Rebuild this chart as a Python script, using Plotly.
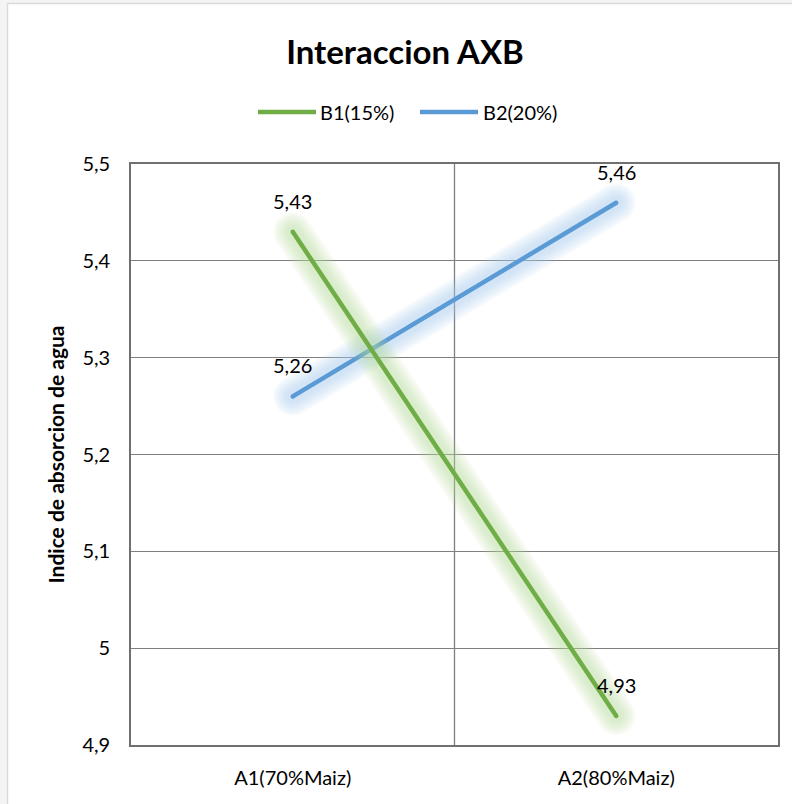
import plotly.graph_objects as go

# Data
categories = ["A1(70%Maiz)", "A2(80%Maiz)"]
series_names = ["B1(15%)", "B2(20%)"]
b1_values = [5.43, 4.93]
b2_values = [5.26, 5.46]
y_ticks = [4.9, 5.0, 5.1, 5.2, 5.3, 5.4, 5.5]

FONT = "Lato"
W, H = 792, 804
L, R, T, B = 131, 14, 164, 59
PW, PH = W - L - R, H - T - B


def px_x(px):
    return (px - L) / PW


def px_y(py):
    return (H - B - py) / PH


xpos = list(range(len(categories)))

styles = {
    "B1(15%)": dict(color="#70AD47", glow="#B5DC98"),
    "B2(20%)": dict(color="#5B9BD5", glow="#A8CDF0"),
}

fig = go.Figure()


def add_series(name, values):
    st = styles[name]
    # soft glow behind the line, built from stacked translucent strokes
    for w in [38, 33, 28, 23, 18, 13]:
        fig.add_trace(go.Scatter(
            x=xpos, y=values, mode="lines+markers",
            line=dict(color=st["glow"], width=w),
            marker=dict(color=st["glow"], size=w, line=dict(width=0)),
            opacity=0.1, hoverinfo="skip", showlegend=False,
        ))
    fig.add_trace(go.Scatter(
        x=xpos, y=values, mode="lines+markers", name=name,
        line=dict(color=st["color"], width=4.5),
        marker=dict(color=st["color"], size=4.5, line=dict(width=0)),
        showlegend=False,
    ))
    for xi, v in zip(xpos, values):
        fig.add_annotation(
            x=xi, y=v, text=f"{v:.2f}".replace(".", ","), showarrow=False,
            yshift=31, font=dict(family=FONT, size=20, color="#000000"),
        )


# B2 drawn first so B1 sits on top
add_series("B2(20%)", b2_values)
add_series("B1(15%)", b1_values)

# legend drawn as swatches + labels
legend_items = [("B1(15%)", 258, 316, 318), ("B2(20%)", 420, 478, 481)]
for name, x0, x1, tx in legend_items:
    fig.add_shape(type="line", xref="paper", yref="paper",
                  x0=px_x(x0), x1=px_x(x1), y0=px_y(112), y1=px_y(112),
                  line=dict(color=styles[name]["color"], width=4.5))
    fig.add_annotation(xref="paper", yref="paper", x=px_x(tx), y=px_y(112),
                       xanchor="left", yanchor="middle", text=name, showarrow=False,
                       font=dict(family=FONT, size=20, color="#000000"))

# vertical divider between categories
fig.add_shape(type="line", xref="x", yref="paper", x0=0.5, x1=0.5, y0=0, y1=1,
              line=dict(color="#7F7F7F", width=1.3), layer="below")

# light frame at the top-left edge of the chart area
fig.add_shape(type="rect", xref="paper", yref="paper",
              x0=px_x(-5), x1=px_x(7), y0=px_y(H + 5), y1=px_y(-5),
              fillcolor="#F4F4F4", line=dict(width=0), layer="below")
fig.add_shape(type="rect", xref="paper", yref="paper",
              x0=px_x(-5), x1=px_x(W + 5), y0=px_y(3), y1=px_y(-5),
              fillcolor="#F4F4F4", line=dict(width=0), layer="below")
fig.add_shape(type="line", xref="paper", yref="paper",
              x0=px_x(7.5), x1=px_x(7.5), y0=px_y(H + 5), y1=px_y(3.5),
              line=dict(color="#D9D9D9", width=1.5))
fig.add_shape(type="line", xref="paper", yref="paper",
              x0=px_x(7.5), x1=px_x(W + 5), y0=px_y(3.5), y1=px_y(3.5),
              line=dict(color="#D9D9D9", width=1.5))

fig.update_layout(
    width=W, height=H,
    margin=dict(l=L, r=R, t=T, b=B),
    paper_bgcolor="white", plot_bgcolor="white",
    separators=",.",
    showlegend=False,
    title=dict(text="<b>Interaccion AXB</b>", x=405 / W, xanchor="center",
               y=1 - 52 / H, yanchor="middle", yref="container",
               font=dict(family=FONT, size=33, color="#000000")),
    font=dict(family=FONT, size=20, color="#000000"),
)

fig.update_xaxes(
    range=[-0.5, len(categories) - 0.5], tickvals=xpos, ticktext=categories,
    showgrid=False, zeroline=False, showline=True, mirror=True,
    linecolor="#707070", linewidth=1.6, ticks="", ticklabelstandoff=14,
    tickfont=dict(family=FONT, size=20, color="#000000"),
)
fig.update_yaxes(
    range=[y_ticks[0], y_ticks[-1]], tickvals=y_ticks,
    showgrid=True, gridcolor="#7F7F7F", gridwidth=1.3,
    zeroline=False, showline=True, mirror=True,
    linecolor="#707070", linewidth=1.6, ticks="", ticklabelstandoff=15,
    tickfont=dict(family=FONT, size=20, color="#000000"),
    title=dict(text="<b>Indice de absorcion de agua</b>", standoff=12,
               font=dict(family=FONT, size=21, color="#000000")),
)

fig.write_html("out.html")
